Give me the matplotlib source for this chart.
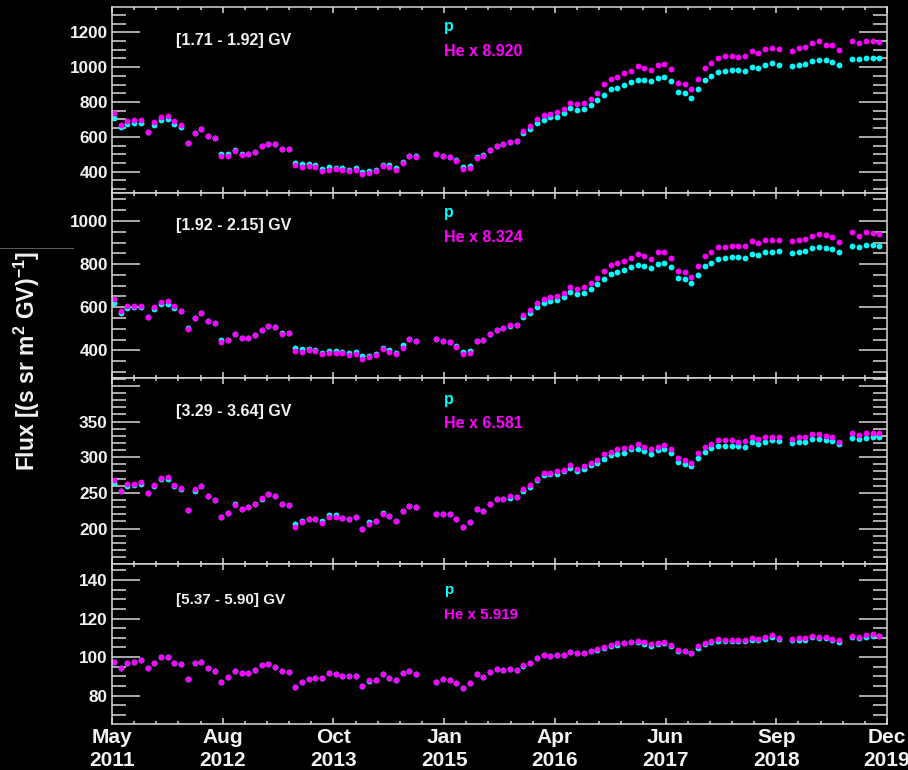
import numpy as np
import matplotlib
matplotlib.use("Agg")
import matplotlib.pyplot as plt
from matplotlib.ticker import FixedLocator
from matplotlib.lines import Line2D

plt.rcParams["font.family"] = ["Liberation Sans", "DejaVu Sans"]
plt.rcParams["font.weight"] = "bold"
plt.rcParams["mathtext.fontset"] = "custom"
plt.rcParams["mathtext.rm"] = "Liberation Sans:bold"
plt.rcParams["mathtext.bf"] = "Liberation Sans:bold"
plt.rcParams["mathtext.it"] = "Liberation Sans:bold"
plt.rcParams["mathtext.default"] = "bf"

# Bartels rotation numbers (27-day periods); None marks rotations without data
first_rotation = 2426
n_rotations = 115

date_labels = ["May\n2011", "Aug\n2012", "Oct\n2013", "Jan\n2015",
               "Apr\n2016", "Jun\n2017", "Sep\n2018", "Dec\n2019"]

rigidity_bins = ["[1.71 - 1.92] GV", "[1.92 - 2.15] GV",
                 "[3.29 - 3.64] GV", "[5.37 - 5.90] GV"]
he_factors = [8.920, 8.324, 6.581, 5.919]

N = None

# --- [1.71 - 1.92] GV ---
p_bin1 = [710, 656, 676, 679, 681, 630, 668, 695, 700, 674, 658, 567, 622, 647, 603, 591,
          501, 500, 524, 500, 501, 513, 545, 561, 561, 528, 530, 452, 442, 442, 440, 417,
          427, 423, 419, 410, 423, 398, 402, 411, 440, 436, 421, 454, 492, 488, N, N,
          503, 488, 486, 465, 429, 435, 486, 494, 525, 548, 557, 569, 575, 621, 644, 680,
          699, 713, 716, 738, 763, 755, 761, 782, 810, 843, 872, 881, 897, 916, 924, 924,
          918, 939, 943, 920, 855, 853, 824, 874, 927, 949, 972, 977, 983, 981, 977, 1000,
          993, 1012, 1021, 1014, N, 1006, 1014, 1020, 1035, 1043, 1041, 1029, 1012, N,
          1048, 1045, 1052, 1054, 1052]
he_scaled_bin1 = [735, 668, 689, 697, 695, 630, 685, 712, 720, 691, 668, 567, 622, 647, 603, 591,
                  492, 492, 520, 496, 499, 512, 545, 561, 561, 528, 530, 436, 427, 434, 429, 406,
                  410, 413, 411, 402, 411, 387, 394, 402, 431, 425, 411, 448, 492, 482, N, N,
                  501, 488, 486, 459, 415, 423, 481, 490, 525, 548, 557, 569, 575, 632, 661, 701,
                  726, 734, 745, 759, 797, 789, 797, 816, 849, 901, 931, 943, 968, 977, 1006, 995,
                  983, 1014, 1016, 987, 910, 903, 872, 933, 997, 1025, 1052, 1062, 1066, 1060, 1064,
                  1094, 1083, 1104, 1112, 1106, N, 1094, 1110, 1113, 1138, 1152, 1129, 1129, 1098,
                  N, 1148, 1140, 1152, 1152, 1142]

# --- [1.92 - 2.15] GV ---
p_bin2 = [618, 575, 595, 599, 599, 555, 590, 615, 616, 596, 584, 504, 552, 573, 536, 528,
          449, 449, 474, 457, 459, 470, 494, 511, 507, 480, 480, 411, 408, 405, 403, 389,
          397, 395, 394, 386, 392, 372, 375, 385, 411, 402, 389, 423, 451, 445, N, N,
          451, 443, 440, 422, 391, 398, 443, 449, 477, 496, 502, 511, 518, 555, 575, 603,
          620, 627, 632, 646, 671, 663, 667, 684, 706, 731, 752, 762, 773, 787, 794, 790,
          783, 802, 805, 787, 734, 729, 712, 749, 793, 807, 824, 830, 833, 831, 828, 848,
          844, 856, 858, 859, N, 851, 856, 861, 873, 881, 875, 868, 855, N,
          883, 878, 887, 889, 886]
he_scaled_bin2 = [638, 582, 604, 607, 607, 555, 599, 624, 629, 607, 584, 497, 552, 573, 536, 528,
                  440, 446, 474, 457, 459, 470, 494, 511, 507, 476, 480, 395, 392, 400, 398, 381,
                  386, 388, 386, 380, 385, 361, 368, 380, 405, 394, 381, 412, 451, 445, N, N,
                  451, 443, 440, 417, 381, 389, 443, 449, 477, 496, 502, 518, 518, 564, 587, 620,
                  637, 647, 654, 664, 695, 686, 695, 711, 734, 768, 794, 803, 814, 827, 847, 838,
                  825, 855, 855, 828, 768, 765, 740, 790, 838, 856, 879, 879, 885, 882, 884, 906,
                  896, 913, 910, 910, N, 906, 910, 918, 929, 940, 935, 926, 902, N,
                  947, 930, 947, 944, 938]

# --- [3.29 - 3.64] GV ---
p_bin3 = [264, 253, 260, 261, 263, 250, 260, 269, 269, 260, 256, 226, 253, 259, 245, 240,
          216, 222, 234, 228, 230, 235, 242, 248, 245, 235, 233, 206, 211, 213, 214, 211,
          219, 219, 215, 214, 216, 200, 209, 210, 222, 217, 210, 224, 232, 230, N, N,
          220, 220, 220, 213, 202, 209, 228, 225, 234, 241, 241, 243, 244, 253, 258, 268,
          275, 276, 276, 280, 285, 281, 283, 289, 292, 298, 303, 305, 306, 311, 311, 309,
          305, 310, 311, 306, 293, 291, 288, 299, 308, 313, 316, 316, 316, 316, 315, 321,
          319, 322, 324, 323, N, 320, 321, 321, 326, 326, 324, 323, 318, N,
          327, 326, 327, 329, 329]
he_scaled_bin3 = [268, 253, 262, 263, 265, 250, 261, 271, 272, 261, 257, 226, 256, 259, 245, 240,
                  216, 222, 233, 228, 230, 235, 243, 248, 245, 235, 233, 202, 209, 213, 213, 208,
                  216, 216, 215, 214, 216, 200, 207, 210, 220, 217, 210, 224, 232, 230, N, N,
                  220, 220, 220, 213, 202, 209, 228, 225, 234, 241, 241, 245, 244, 255, 261, 270,
                  278, 278, 280, 282, 289, 284, 288, 292, 296, 305, 308, 311, 313, 315, 319, 315,
                  311, 315, 317, 311, 299, 296, 292, 306, 314, 319, 324, 324, 324, 321, 323, 329,
                  326, 329, 329, 329, N, 326, 328, 328, 332, 333, 330, 328, 322, N,
                  334, 331, 334, 334, 334]

# --- [5.37 - 5.90] GV ---
p_bin4 = [97.3, 94.4, 97.1, 97.6, 98.3, 94.5, 97.1, 99.9, 100.1, 97.1, 96.3, 88.8, 96.8, 97.5,
          94.5, 93.0, 87.1, 89.9, 93.0, 91.6, 91.9, 93.3, 95.7, 96.3, 94.7, 92.8, 92.3, 84.3,
          87.3, 88.5, 89.2, 89.2, 91.9, 91.4, 90.4, 90.0, 90.0, 84.8, 87.8, 88.3, 91.4, 89.3,
          88.1, 91.8, 93.0, 91.2, N, N, 86.9, 88.5, 88.3, 86.7, 84.1, 86.7, 91.4, 89.7,
          92.4, 93.8, 93.3, 93.7, 93.1, 95.6, 97.1, 99.5, 100.9, 100.6, 100.9, 101.1, 102.8,
          102.1, 102.1, 103.3, 103.9, 104.7, 105.9, 106.5, 107.3, 107.7, 108.0, 107.0, 105.9,
          107.0, 107.5, 105.9, 103.3, 103.0, 102.1, 104.7, 106.8, 107.8, 108.5, 108.4, 108.4,
          108.4, 108.4, 109.0, 108.9, 109.6, 110.4, 109.6, N, 108.7, 108.9, 108.9, 110.3,
          109.9, 110.1, 108.7, 107.8, N, 110.3, 109.9, 110.6, 111.1, 110.8]
he_scaled_bin4 = [97.5, 94.6, 97.1, 97.6, 98.3, 94.5, 97.1, 99.9, 100.1, 97.1, 96.3, 88.9, 96.9,
                  97.6, 94.5, 93.0, 87.1, 89.9, 93.0, 91.6, 91.9, 93.3, 95.8, 96.3, 94.7, 92.8,
                  92.3, 84.3, 87.3, 88.5, 89.2, 89.2, 91.9, 91.4, 90.4, 90.0, 90.0, 84.8, 87.9,
                  88.3, 91.4, 89.3, 88.1, 91.8, 93.0, 91.2, N, N, 86.9, 88.5, 88.3, 86.7, 84.1,
                  86.7, 91.4, 89.7, 92.4, 93.8, 93.3, 93.7, 93.3, 95.7, 97.2, 99.6, 101.0, 100.7,
                  101.0, 101.2, 102.9, 102.2, 102.2, 103.4, 104.0, 105.2, 106.5, 107.1, 107.5,
                  107.9, 108.5, 107.7, 106.8, 107.5, 108.0, 106.1, 103.7, 103.2, 102.2, 105.6,
                  107.3, 108.5, 109.4, 109.0, 108.9, 108.9, 109.0, 109.9, 109.4, 110.6, 111.5,
                  110.1, N, 109.4, 109.9, 109.7, 110.8, 110.4, 110.6, 109.2, 108.7, N, 110.8,
                  110.4, 111.3, 111.8, 111.1]

p_series = [p_bin1, p_bin2, p_bin3, p_bin4]
he_series = [he_scaled_bin1, he_scaled_bin2, he_scaled_bin3, he_scaled_bin4]

# axis ranges and tick layout for each panel
y_limits = [(278, 1345), (271.5, 1130), (150.4, 411), (65.3, 148.3)]
y_major = [[400, 600, 800, 1000, 1200], [400, 600, 800, 1000],
           [200, 250, 300, 350, 400], [80, 100, 120, 140]]
y_major_labels = [["400", "600", "800", "1000", "1200"], ["400", "600", "800", "1000"],
                  ["200", "250", "300", "350", ""], ["80", "100", "120", "140"]]
y_minor_step = [50, 50, 10, 5]

# panel geometry in pixels (top, bottom) of a 908x770 canvas
W, H = 908, 770
left_px, right_px = 112, 887
panel_px = [(7, 193), (193, 378), (378, 564), (564, 724)]
bin_label_base = [44.5, 230, 415.5, 604]
p_label_base = [31.5, 217, 404, 594]
he_label_base = [56.5, 242.5, 428.5, 619]
text_sizes = [11.5, 11.5, 11.5, 10.9]

CYAN = "#00ffff"
MAGENTA = "#ff00ff"
AXIS_COL = "#d8d8d8"
TEXT_COL = "#f2f2f2"

x_rot = np.arange(first_rotation, first_rotation + n_rotations)
x_lo, x_hi = first_rotation - 0.3, first_rotation + 115.15
x_major = np.linspace(x_lo, x_hi, 8)
x_minor = np.linspace(x_lo, x_hi, 36)

fig = plt.figure(figsize=(W / 100, H / 100), dpi=100, facecolor="black")


def fx(px):
    return px / W


def fy(py):
    return 1 - py / H


for k in range(4):
    top, bot = panel_px[k]
    ax = fig.add_axes([fx(left_px), fy(bot), fx(right_px - left_px), (bot - top) / H])
    ax.set_facecolor("black")

    p_vals = np.array([np.nan if v is None else v for v in p_series[k]], dtype=float)
    he_vals = np.array([np.nan if v is None else v for v in he_series[k]], dtype=float)
    ax.plot(x_rot, p_vals, "o", color=CYAN, ms=4.2, mew=0)
    ax.plot(x_rot, he_vals, "o", color=MAGENTA, ms=4.2, mew=0)

    ax.set_xlim(x_lo, x_hi)
    ax.set_ylim(*y_limits[k])

    ax.xaxis.set_major_locator(FixedLocator(x_major))
    ax.xaxis.set_minor_locator(FixedLocator(x_minor))
    ylo, yhi = y_limits[k]
    step = y_minor_step[k]
    minors = np.arange(np.ceil(ylo / step) * step, yhi, step)
    ax.yaxis.set_major_locator(FixedLocator(y_major[k]))
    ax.yaxis.set_minor_locator(FixedLocator(minors))
    ax.set_yticklabels(y_major_labels[k])

    if k == 3:
        ax.set_xticklabels(date_labels, linespacing=1.25)
    else:
        ax.set_xticklabels([])

    for s in ax.spines.values():
        s.set_color(AXIS_COL)
        s.set_linewidth(1.1)

    ax.tick_params(axis="y", which="major", direction="in", length=20, width=1.1,
                   color=AXIS_COL, left=True, right=True, labelsize=12.3,
                   labelcolor=TEXT_COL, pad=3)
    ax.tick_params(axis="y", which="minor", direction="in", length=10, width=1.1,
                   color=AXIS_COL, left=True, right=True)
    ax.tick_params(axis="x", which="major", direction="in", length=4, width=1.1,
                   color=AXIS_COL, top=True, bottom=True, labelsize=15,
                   labelcolor=TEXT_COL, pad=3)
    ax.tick_params(axis="x", which="minor", direction="in", length=2.5, width=1.1,
                   color=AXIS_COL, top=True, bottom=True)

    fs = text_sizes[k]
    fig.text(fx(176), fy(bin_label_base[k]), rigidity_bins[k], color=TEXT_COL,
             fontsize=fs, fontweight="bold", ha="left", va="baseline")
    fig.text(fx(444), fy(p_label_base[k]), "p", color=CYAN,
             fontsize=fs, fontweight="bold", ha="left", va="baseline")
    fig.text(fx(444), fy(he_label_base[k]), f"He x {he_factors[k]:.3f}", color=MAGENTA,
             fontsize=fs, fontweight="bold", ha="left", va="baseline")

fig.text(fx(27), fy(361), r"Flux [(s sr m$^{2}$ GV)$^{\mathrm{-}1}$]", color=TEXT_COL,
         fontsize=16.5, fontweight="bold", rotation=90, ha="center", va="center")

fig.add_artist(Line2D([0, fx(73)], [fy(247.5), fy(247.5)], color="#5a5a5a", lw=0.8))

fig.savefig("out.png", dpi=100, facecolor="black")
